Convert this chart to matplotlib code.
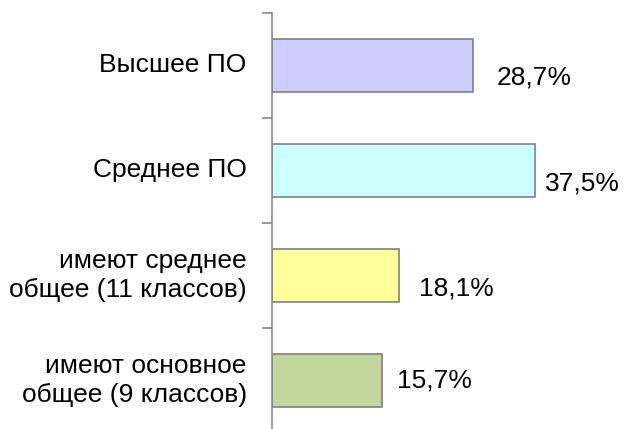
import matplotlib
matplotlib.use('Agg')
import matplotlib.pyplot as plt

categories = ['Высшее ПО', 'Среднее ПО', 'имеют среднее\nобщее (11 классов)', 'имеют основное\nобщее (9 классов)']
values = [28.7, 37.5, 18.1, 15.7]
value_labels = ['28,7%', '37,5%', '18,1%', '15,7%']
colors = ['#CCCCFF', '#CCFFFF', '#FFFF99', '#C3D69B']

# label offsets from bar end (pixels), placed by hand like in the original
label_dx = [24, 10, 20, 15]
label_dy = [-12, -13, -13, 0]

plt.rcParams['font.family'] = ['Liberation Sans', 'DejaVu Sans']

fig = plt.figure(figsize=(6.23, 4.29), dpi=100)
ax = fig.add_axes([271.7 / 623, -4 / 429, 280.4 / 623, 420 / 429])

y = list(range(len(categories)))
ax.barh(y, values, height=0.5, color=colors, edgecolor='#808080', linewidth=1.2)

for i, v in enumerate(values):
    ax.annotate(value_labels[i], (v, i), xytext=(label_dx[i], label_dy[i]),
                textcoords='offset pixels', ha='left', va='center', fontsize=19)

ax.set_xlim(0, 40)
ax.set_ylim(3.5, -0.5)

for s in ['top', 'right', 'bottom']:
    ax.spines[s].set_visible(False)
ax.spines['left'].set_color('#888888')
ax.spines['left'].set_linewidth(1.2)

ax.set_xticks([])
ax.set_yticks([-0.5, 0.5, 1.5, 2.5, 3.5])
ax.set_yticklabels([])
ax.tick_params(axis='y', length=7, color='#888888', width=1.2, direction='out')

for i, c in enumerate(categories):
    ax.text(-25 / 7.01, i, c, ha='right', va='center', fontsize=19, linespacing=1.27)

fig.savefig('out.png', dpi=100)
